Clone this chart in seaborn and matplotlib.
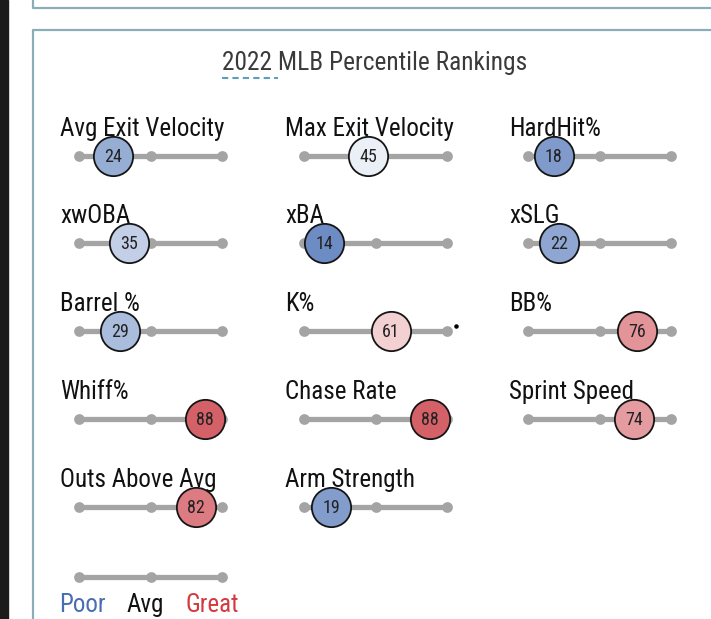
import numpy as np
import pandas as pd
import matplotlib.pyplot as plt
import seaborn as sns
from matplotlib.colors import LinearSegmentedColormap
from matplotlib.patches import Rectangle

# data
metrics = ['Avg Exit Velocity', 'Max Exit Velocity', 'HardHit%',
           'xwOBA', 'xBA', 'xSLG',
           'Barrel %', 'K%', 'BB%',
           'Whiff%', 'Chase Rate', 'Sprint Speed',
           'Outs Above Avg', 'Arm Strength']
percentiles = [24, 45, 18, 35, 14, 22, 29, 61, 76, 88, 88, 74, 82, 19]
scale_ticks = [0, 50, 100]
legend_labels = ['Poor', 'Avg', 'Great']
title = '2022 MLB Percentile Rankings'

W, H = 711, 619
col_left = [79, 304, 528]
row_y = [156, 243, 331, 419, 507]
track_w = 143.0
px = track_w / 100.0

sns.set_theme(style='white')
plt.rcParams['font.family'] = ['Roboto Condensed', 'Roboto', 'DejaVu Sans']

cmap = LinearSegmentedColormap.from_list('savant', ['#3661ad', '#ffffff', '#c8313a'])
track_col = '#a4a4a4'

fig = plt.figure(figsize=(W / 100, H / 100), dpi=100)

# page background / frames
bg = fig.add_axes([0, 0, 1, 1])
bg.set_xlim(0, W)
bg.set_ylim(H, 0)
bg.axis('off')
bg.add_patch(Rectangle((0, 0), 8, H, color='#1b1b1b'))
frame = '#8aaeb8'
bg.plot([33, 33, W], [0, 8, 8], color=frame, lw=1.6)
bg.plot([33, 33, W], [H, 30, 30], color=frame, lw=1.6)
bg.text(375, 70, title, ha='center', va='baseline', fontsize=18.3, color='#3a3a3a')
bg.plot([222, 278], [78, 78], color='#5d9fb8', lw=1.5, ls=(0, (3, 2)))


def slider(L, Y, value=None):
    pad = 30
    ax = fig.add_axes([(L - pad) / W, 1 - (Y + 25) / H, (track_w + 2 * pad) / W, 50 / H])
    ax.set_xlim(-pad / px, 100 + pad / px)
    ax.set_ylim(-1, 1)
    ax.axis('off')
    trk = pd.DataFrame({'x': scale_ticks, 'y': [0] * len(scale_ticks)})
    sns.lineplot(data=trk, x='x', y='y', ax=ax, color=track_col, lw=3.8, zorder=1)
    sns.scatterplot(data=trk, x='x', y='y', ax=ax, color=track_col, s=60,
                    linewidth=0, zorder=2)
    if value is not None:
        sns.scatterplot(x=[value], y=[0], ax=ax, color=cmap(value / 100), s=800,
                        edgecolor='#151515', linewidth=1.3, zorder=3, clip_on=False)
        ax.text(value, -0.05, str(value), ha='center', va='center', fontsize=13,
                color='#222222', zorder=4)
    ax.set_xlabel('')
    ax.set_ylabel('')
    return ax


for i, (name, val) in enumerate(zip(metrics, percentiles)):
    L = col_left[i % 3]
    Y = row_y[i // 3]
    ax = slider(L, Y, val)
    fig.text((L - 19) / W, 1 - (Y - 20) / H, name, ha='left', va='baseline',
             fontsize=18, color='#111111', zorder=5)
    if name == 'K%':
        ax.scatter([106], [0.2], s=5, color='black', zorder=5)

# legend slider
slider(col_left[0], 577)
leg_x = [59, 145, 212]
leg_col = ['#4a6cb3', '#111111', '#d23a40']
leg_ha = ['left', 'center', 'center']
for lab, x, c, ha in zip(legend_labels, leg_x, leg_col, leg_ha):
    fig.text(x / W, 1 - 612 / H, lab, ha=ha, va='baseline', fontsize=18, color=c)

fig.savefig('out.png', dpi=100)
